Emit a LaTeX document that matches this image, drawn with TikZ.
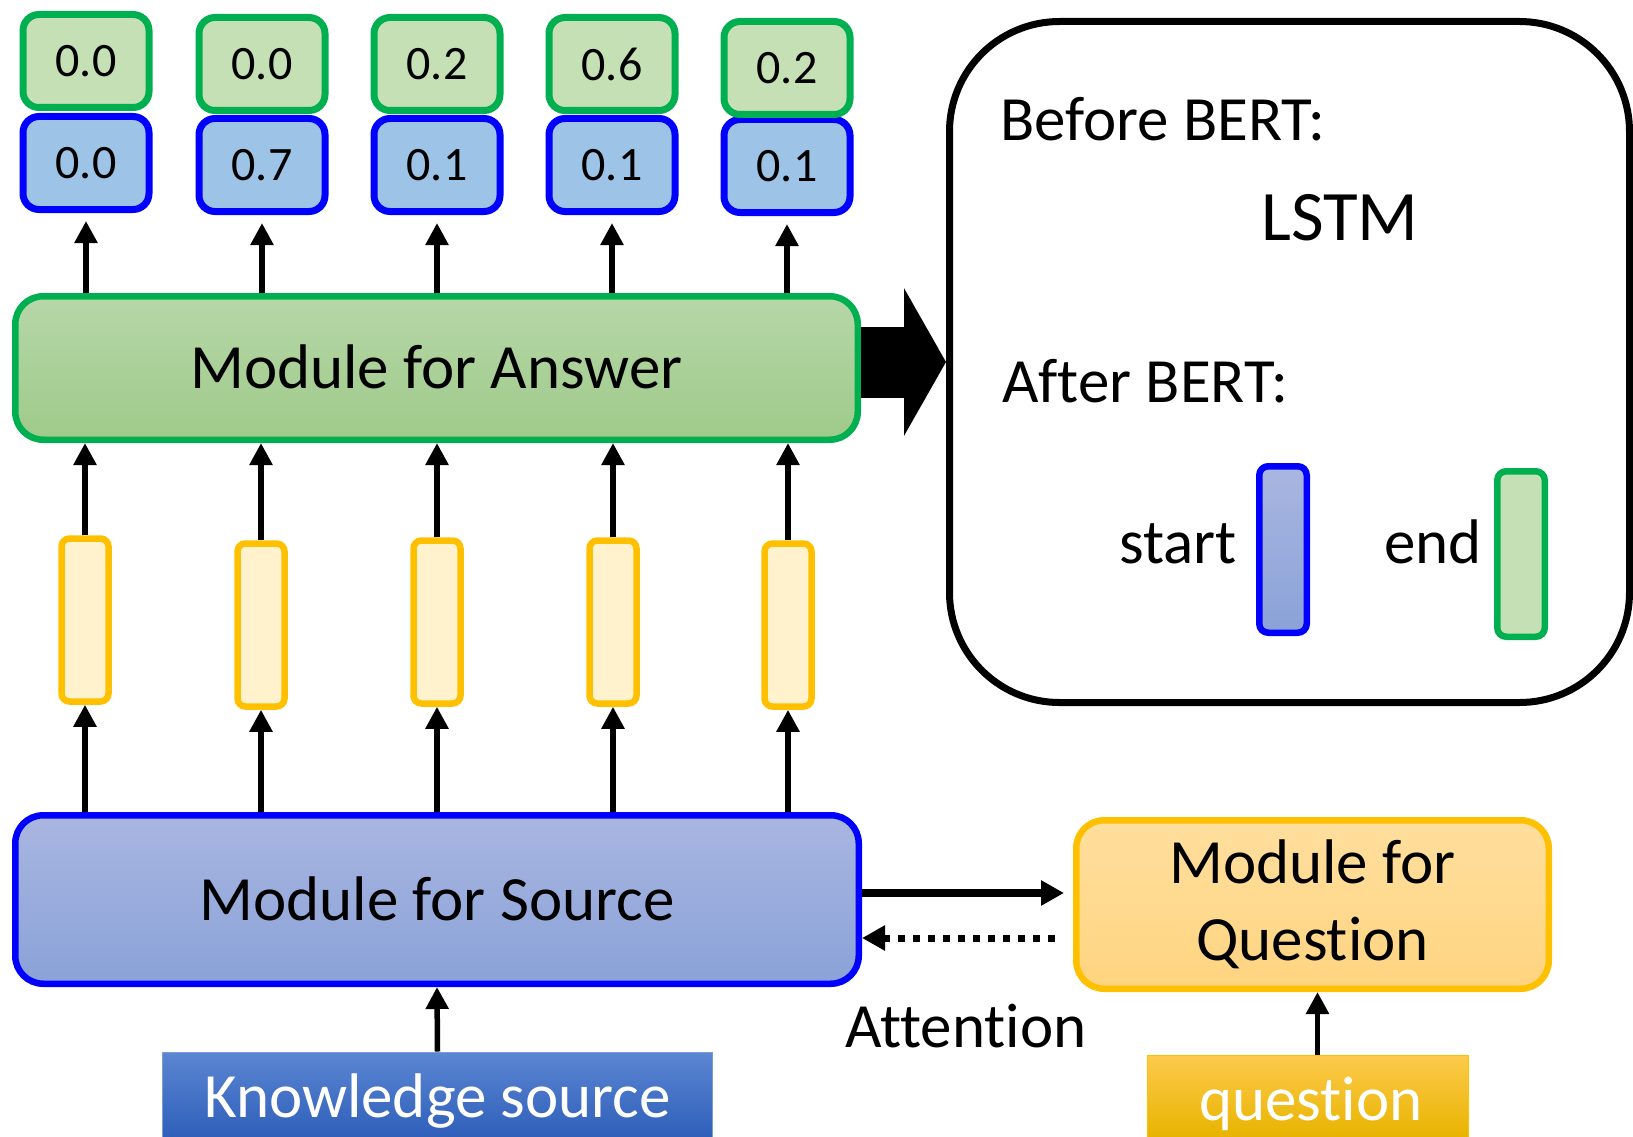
\documentclass[tikz,border=0pt]{standalone}
\usepackage{fontspec}
\setmainfont{Carlito}[Ligatures=NoCommon]
\usetikzlibrary{arrows.meta}
\definecolor{gstroke}{HTML}{00B050}
\definecolor{gfill}{HTML}{C5E0B4}
\definecolor{bstroke}{HTML}{0000FF}
\definecolor{bfill}{HTML}{9DC3E6}
\definecolor{ystroke}{HTML}{FFC000}
\definecolor{yfill}{HTML}{FFF2CC}
\definecolor{anstop}{HTML}{B6D7A8}
\definecolor{ansbot}{HTML}{9FCA8A}
\definecolor{srctop}{HTML}{A9B6E0}
\definecolor{srcbot}{HTML}{8AA2D8}
\definecolor{mqtop}{HTML}{FFDF9E}
\definecolor{mqbot}{HTML}{FFD480}
\definecolor{kstop}{HTML}{5B86D2}
\definecolor{ksbot}{HTML}{2F5FBA}
\definecolor{ksline}{HTML}{7C9CD8}
\definecolor{qstop}{HTML}{FDCA4C}
\definecolor{qsmid}{HTML}{FFC000}
\definecolor{qsbot}{HTML}{E8B400}
\newcommand\fbig{\fontsize{63}{77}\selectfont}
\newcommand\fnum{\fontsize{48}{56}\selectfont}
\newcommand\flstm{\fontsize{71}{85}\selectfont}
\begin{document}
\begin{tikzpicture}[x=1pt,y=-1pt,
  smallbox/.style={draw, rounded corners=16pt, line width=7pt, inner sep=0pt,
    minimum width=126pt, minimum height=93pt, font=\fnum},
  gsm/.style={smallbox, draw=gstroke, fill=gfill},
  bsm/.style={smallbox, draw=bstroke, fill=bfill},
  ysm/.style={draw=ystroke, fill=yfill, line width=6.5pt, rounded corners=8pt,
    minimum width=47pt, minimum height=163pt, inner sep=0pt},
  bigbox/.style={draw, line width=6.5pt, rounded corners=28pt, inner sep=0pt, font=\fbig},
  arr/.style={-{Triangle[length=22pt,width=22pt]}, line width=5.5pt},
  tarr/.style={-{Triangle[length=23pt,width=24pt]}, line width=8pt},
  lbl/.style={inner sep=0pt, font=\fbig}]
\useasboundingbox (0,0) rectangle (1633,1137);

% top score boxes
\foreach \i/\x/\gy/\by/\gv/\bv in {1/86/61/163/0.0/0.0, 2/262/64/165/0.0/0.7,
    3/437/64/165/0.2/0.1, 4/612/64/165/0.6/0.1, 5/787/68/166/0.2/0.1}{
  \node[bsm] (b\i) at (\x,\by) {\bv};
  \node[gsm] (g\i) at (\x,\gy) {\gv};
}
% yellow vectors
\foreach \i/\x/\yy in {1/85/620, 2/261/625, 3/437/622, 4/613/622, 5/788/625}{
  \node[ysm] (y\i) at (\x,\yy) {};
}

% main boxes
\node[bigbox, draw=gstroke, top color=anstop, bottom color=ansbot,
  minimum width=842.5pt, minimum height=143.5pt, text height=40pt, text depth=0pt]
  (ans) at (436.5,368) {Module for Answer};
\node[bigbox, draw=bstroke, top color=srctop, bottom color=srcbot,
  minimum width=843.5pt, minimum height=168.5pt, text height=41pt, text depth=0pt]
  (src) at (437,899.5) {Module for Source};
\node[bigbox, draw=ystroke, top color=mqtop, bottom color=mqbot, align=center,
  minimum width=472.5pt, minimum height=168.5pt]
  (mq) at (1312.5,904.5) {Module for\\Question};

% inputs
\node[draw=ksline, line width=1pt, top color=kstop, bottom color=ksbot, inner sep=0pt,
  minimum width=550pt, minimum height=85pt, text=white, font=\fbig,
  text height=46pt, text depth=0pt] (ks) at (437.5,1094.5) {Knowledge source};
\node[draw=ystroke, line width=1pt, top color=qstop, middle color=qsmid, bottom color=qsbot,
  inner sep=0pt, minimum width=321pt, minimum height=82pt, text=white, font=\fbig,
  text height=49pt, text depth=0pt] (qs) at (1308,1096) {\hspace*{6pt}question};

% right panel
\node[draw=black, line width=7pt, rounded corners=110pt, minimum width=680pt,
  minimum height=681pt, inner sep=0pt] (panel) at (1289.5,362) {};
\node[lbl, anchor=base west] (before) at (1000,141) {Before BERT:};
\node[inner sep=0pt, font=\flstm, anchor=base] (lstm) at (1340,240) {LSTM};
\node[lbl, anchor=base west] (after) at (1002,402) {After BERT:};
\node[lbl, anchor=base east] (start) at (1237,563) {start};
\node[lbl, anchor=base east] (endl) at (1482,563) {end};
\node[draw=bstroke, line width=6.5pt, rounded corners=9pt, top color=srctop, bottom color=srcbot,
  minimum width=47.5pt, minimum height=166.5pt, inner sep=0pt] (sbar) at (1283,549.5) {};
\node[draw=gstroke, line width=6.5pt, rounded corners=9pt, fill=gfill,
  minimum width=47.5pt, minimum height=165.5pt, inner sep=0pt] (ebar) at (1521,554) {};

% big arrow
\draw[line width=71pt, -{Triangle[length=42pt,width=146pt]}] (ans.east |- panel.west) -- (panel.west);

% column arrows
\foreach \i in {1,...,5}{
  \draw[arr, shorten >=8pt] (ans.north -| b\i) -- (b\i.south);
  \draw[arr] (y\i.north) -- (y\i.north |- ans.south);
  \draw[arr] (src.north -| y\i) -- (y\i.south);
}

% source <-> question
\draw[tarr] ([yshift=6.5pt]src.east) -- ([yshift=11.5pt,xshift=-9pt]mq.west);
\draw[tarr, line width=7pt, dash pattern=on 7pt off 8pt]
  ([yshift=-33.5pt,xshift=-18pt]mq.west) -- ([yshift=-38.5pt]src.east);
\node[lbl, anchor=base] (att) at (966,1047) {Attention};

% input arrows
\draw[arr] (ks.north) -- (src.south);
\draw[arr] ([xshift=9.5pt]qs.north) -- ([xshift=9.5pt]qs.north |- mq.south);
\end{tikzpicture}
\end{document}
